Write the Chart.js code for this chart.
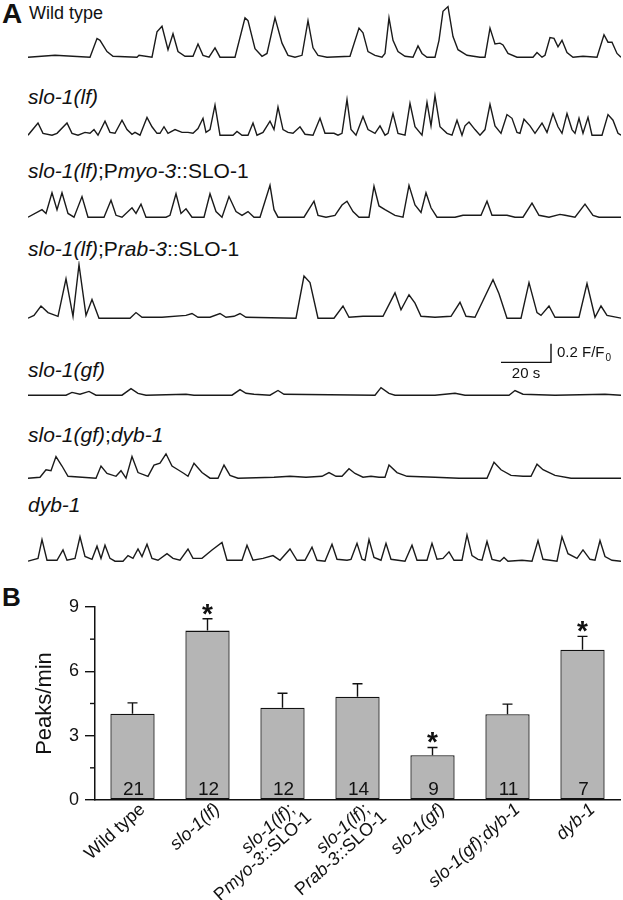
<!DOCTYPE html>
<html>
<head>
<meta charset="utf-8">
<script src="https://cdn.jsdelivr.net/npm/chart.js@4.4.1/dist/chart.umd.min.js"></script>
<style>
body{margin:0;background:#fff;width:623px;height:900px;position:relative;overflow:hidden;font-family:"Liberation Sans",Arial,sans-serif;color:#111;}
.box{position:absolute;}
.lab{position:absolute;left:28px;font-size:21px;line-height:21px;white-space:nowrap;}
.pl{position:absolute;left:2px;font-weight:bold;}
</style>
</head>
<body>

<div class="pl" style="top:0;font-size:28px;line-height:28px">A</div>
<div class="lab" style="left:29px;top:4px;font-size:18px;line-height:18px">Wild type</div>
<div class="lab" style="top:86px"><i>slo-1(lf)</i></div>
<div class="lab" style="top:160px"><i>slo-1(lf)</i>;P<i>myo-3</i>::SLO-1</div>
<div class="lab" style="top:238px"><i>slo-1(lf)</i>;P<i>rab-3</i>::SLO-1</div>
<div class="lab" style="top:359px"><i>slo-1(gf)</i></div>
<div class="lab" style="top:424px"><i>slo-1(gf)</i>;<i>dyb-1</i></div>
<div class="lab" style="top:494px"><i>dyb-1</i></div>
<div class="pl" style="top:584px;font-size:26px;line-height:26px">B</div>

<div class="box" style="left:28px;top:0px;width:593px;height:60px"><canvas id="t1"></canvas></div>
<div class="box" style="left:28px;top:78px;width:593px;height:60px"><canvas id="t2"></canvas></div>
<div class="box" style="left:28px;top:160px;width:593px;height:60px"><canvas id="t3"></canvas></div>
<div class="box" style="left:28px;top:261px;width:593px;height:60px"><canvas id="t4"></canvas></div>
<div class="box" style="left:28px;top:338px;width:593px;height:60px"><canvas id="t5"></canvas></div>
<div class="box" style="left:28px;top:421px;width:593px;height:60px"><canvas id="t6"></canvas></div>
<div class="box" style="left:28px;top:504px;width:593px;height:60px"><canvas id="t7"></canvas></div>
<div class="box" style="left:0;top:580px;width:623px;height:320px"><canvas id="bars"></canvas></div>

<script>
// Ca2+ traces, [time (s), dF/F0]
const wildType = [[0,0],[10.8,.02],[24.8,0],[27.6,.2],[28.8,.18],[31.6,.06],[34,.01],[43.6,0],[44.4,.02],[49.6,0],[51.6,.27],[53.6,.33],[56,.08],[58,.25],[60,.06],[62.8,.01],[66,.01],[68,.14],[70,.02],[72.4,0],[74.8,.1],[76.8,0],[82.8,0],[86.8,.42],[88,.39],[90.8,.09],[93.6,.01],[95.6,.04],[98.8,.42],[101.6,.15],[104,.02],[106.8,0],[109.6,.02],[112,.39],[114,.1],[116,.02],[119.6,0],[128.8,.01],[132.4,.31],[134,.26],[136,.06],[138.8,.02],[141.6,0],[142.8,.04],[144.4,.42],[146,.18],[148,.06],[150.8,.01],[154,0],[156,.12],[157.6,.04],[159.6,0],[162.8,0],[164.4,.18],[166,.49],[168,.54],[170,.22],[172,.08],[175.6,.02],[180.8,0],[182.8,0],[184.8,.31],[186.8,.14],[188.8,.15],[190,.13],[192,.04],[195.6,0],[202,0],[203.6,.05],[205.6,0],[206.8,.02],[208.8,.21],[210.4,.2],[212,.11],[213.6,.18],[215.6,.05],[218,0],[222,.01],[227.6,0],[230.4,.24],[232,.16],[233.6,.16],[235.6,.04],[237.2,0]];
const slo1lf = [[0,0],[4,.13],[6,.02],[9.6,0],[11.6,.02],[15.6,.13],[17.6,.02],[20,0],[22.8,.03],[24.8,.02],[26.4,.06],[28,0],[30.8,.15],[32.8,.03],[34.8,.02],[37.6,.16],[39.6,.06],[41.6,.01],[42.8,.03],[44.8,0],[47.6,.19],[49.6,.09],[51.6,.02],[52.8,.02],[54.4,.09],[56,.02],[58.8,.06],[61.6,.03],[64,.03],[66,.02],[68,.07],[70,.18],[71.2,.03],[72.8,.06],[74.8,.32],[76.8,0],[82,0],[83.6,.04],[85.6,0],[88,0],[90,.13],[91.6,0],[94,.03],[96.8,.15],[98.4,.06],[100,.3],[102,.06],[104,.03],[106,.02],[108.8,.09],[110.8,.01],[114,0],[116.8,.18],[118.8,.02],[120.8,.02],[122.4,.02],[124,0],[125.6,.02],[127.6,.38],[129.2,.06],[131.2,0],[134,.2],[136,.06],[138.8,.02],[140.8,.1],[142.8,0],[144,.02],[146,.23],[148,.02],[150.8,0],[152.8,.34],[154.8,.09],[157.6,0],[159.6,.35],[161.2,.1],[162.8,.42],[164.8,.09],[167.6,.02],[169.6,0],[171.6,.16],[173.6,0],[174.8,.1],[176.4,.14],[178.8,.06],[180.8,0],[182.8,.06],[184.8,.33],[186.8,.1],[189.2,.02],[191.6,.22],[193.6,.18],[195.6,.03],[196.8,.02],[198.4,.17],[200.8,.1],[202.8,.02],[205.6,.13],[207.6,.03],[210,.23],[212,.09],[213.6,.02],[215.6,.23],[217.6,.06],[218.8,.02],[220.4,.18],[222,.02],[224,.19],[225.6,0],[229.6,0],[232,.22],[234,.16],[236,.02],[237.2,0]];
const pmyo3Rescue = [[0,0],[5.6,.08],[7.2,.04],[9.6,.26],[11.6,.08],[13.6,.26],[16,.04],[18.4,0],[21.6,.22],[24,0],[30.4,0],[33.2,.18],[35.2,.02],[37.6,0],[41.6,.1],[43.2,.04],[45.2,.14],[47.2,0],[55.2,0],[56.8,.02],[59.2,.25],[61.2,.04],[63.2,.09],[65.6,0],[70.4,0],[72.8,.25],[75.2,.06],[77.6,0],[80.4,.22],[83.2,.06],[85.6,.02],[88,.06],[90.4,0],[92.8,0],[96.8,.34],[98.4,.08],[100,0],[110.4,0],[114.4,.17],[116,.02],[119.2,0],[122.8,.02],[125.6,.13],[127.6,.17],[130,.06],[132.4,0],[136.4,0],[138.4,.33],[140.4,.12],[142.8,.08],[146.8,.02],[150,0],[152.4,.34],[154.8,.13],[157.2,.05],[159.2,.26],[161.2,.1],[163.6,0],[170.8,0],[174,.02],[177.2,.02],[181.2,.02],[183.6,.17],[185.6,.02],[191.6,.02],[194.8,0],[198,0],[201.6,.15],[204.4,.02],[208.4,0],[212.8,.03],[214.8,.02],[218.8,0],[222.8,.14],[226,.02],[228.4,0],[237.2,0]];
const prab3Rescue = [[0,0],[2.4,.03],[5.2,.13],[8,.06],[12,.02],[15.2,.42],[18,.02],[20.4,.57],[23.2,.03],[25.6,.2],[28.4,0],[40.8,0],[43.2,.06],[45.6,.01],[53.6,.01],[63.2,.03],[65.6,.05],[68,.01],[72.8,.01],[76.8,.05],[79.2,.01],[82.4,.02],[84.8,.05],[87.2,.01],[107.2,0],[110.4,.45],[112.8,.38],[116,0],[122.4,0],[126,.13],[128.4,.01],[134,.02],[138,.02],[142,.02],[146.8,.27],[149.2,.09],[152.4,.25],[154.8,.16],[157.2,.02],[162.8,.01],[169.2,.02],[172.8,.17],[175.2,.02],[178.8,.01],[186,.41],[188.4,.26],[191.6,0],[197.2,0],[200.4,.38],[203.6,.06],[205.2,.03],[208.4,.13],[210.8,.01],[220.4,.01],[223.6,.37],[226.8,.01],[229.2,.13],[231.6,.03],[237.2,0]];
const slo1gf = [[0,0],[15.2,0],[17.6,.03],[20.8,.01],[24.4,.04],[27.2,0],[37.6,0],[41.2,.07],[44,.02],[47.2,0],[63.2,.01],[66.4,0],[81.6,0],[84.8,.06],[87.2,.02],[90.4,.01],[96.8,0],[100,.05],[102.4,.01],[138.8,0],[141.2,.08],[144.4,.02],[146.8,0],[162.8,0],[170.8,.02],[174.8,0],[192.4,0],[194.8,.05],[198,.01],[210.8,0],[230.8,.01],[237.2,0]];
const slo1gfDyb1 = [[0,0],[4.8,.01],[7.2,.09],[9.2,.08],[11.2,.23],[13.6,.13],[16,.02],[27.2,0],[29.2,.13],[31.6,.05],[35.2,.02],[37.2,.08],[39.2,0],[41.6,.23],[44,.06],[48,.02],[50.4,.14],[52.8,.16],[55.2,.26],[57.6,.13],[60,.09],[62.4,.05],[64,.02],[66.4,.16],[69.6,.06],[72.8,0],[76,0],[78.4,.14],[80.8,.03],[84,0],[98.4,.01],[104.8,.02],[111.2,.01],[117.6,.02],[120.4,.06],[123.2,.02],[125.6,.02],[128.4,.1],[130.8,.05],[134,.01],[137.2,.02],[140.4,.01],[142.8,.01],[144.4,.14],[147.6,.06],[151.6,.02],[162.8,.01],[172.4,0],[183.6,0],[186.4,.17],[189.2,.09],[193.2,.03],[198,.02],[201.2,.02],[203.6,.15],[206,.09],[210.8,.03],[217.2,0],[237.2,0]];
const dyb1 = [[0,0],[4,.03],[5.6,.23],[7.6,.01],[11.6,.01],[14,.12],[15.6,.01],[18.8,.03],[20.8,.26],[22.8,.05],[25.6,.02],[27.6,.16],[29.2,.03],[30.8,.17],[32.8,.03],[34.8,0],[38,0],[40,.06],[42,.03],[44,.13],[45.6,.05],[47.6,.18],[49.6,.03],[52,.01],[55.6,.08],[58,.03],[60.8,.01],[64,.13],[66,.03],[69.6,.03],[73.6,.12],[77.6,.2],[79.6,.01],[85.6,.01],[87.6,.17],[90,.01],[94,.03],[98,.06],[100.8,.01],[104.8,.13],[107.6,.01],[110.8,.01],[113.6,.15],[115.6,.01],[118.8,0],[121.6,.18],[123.6,.02],[127.6,.01],[129.2,.02],[131.6,.19],[133.6,.02],[134.8,.01],[136.4,.23],[138.4,.04],[141.2,.01],[143.2,.19],[145.2,.02],[150.8,0],[153.6,.17],[155.6,.01],[159.6,.01],[161.6,.19],[163.6,.02],[166,.03],[168.4,.1],[170.4,.01],[173.6,.01],[175.6,.28],[177.6,.06],[180,.02],[181.6,.01],[183.6,.21],[185.6,.02],[188.8,0],[190.4,.04],[192,0],[197.6,.01],[201.6,0],[204,.22],[206,.02],[211.6,0],[213.6,.26],[216,.08],[219.6,.03],[222,.12],[224.8,.02],[226.8,.01],[228.8,.22],[230.8,.05],[233.6,.01],[237.2,0]];
const traceSeconds = 237.2;

// scale bar: 20 s, 0.2 F/F0
const barStart = 189.2, barSec = 20, barBase = 0.35, barDF = 0.2;

// panel B
const genotypes = ['Wild type', 'slo-1(lf)', 'slo-1(lf); Pmyo-3::SLO-1', 'slo-1(lf); Prab-3::SLO-1', 'slo-1(gf)', 'slo-1(gf);dyb-1', 'dyb-1'];
const peaksPerMin = [4.02, 7.9, 4.3, 4.82, 2.09, 4.0, 7.01];
const peaksSem = [0.51, 0.55, 0.68, 0.6, 0.36, 0.47, 0.62];
const animalsN = [21, 12, 12, 14, 9, 11, 7];
const significant = [false, true, false, false, true, false, true];
const yTicks = [0, 3, 6, 9];
const yMinorTicks = [1.5, 4.5, 7.5];

// label lines, [text, italic]
const genotypeLines = [
  [[['Wild type', false]]],
  [[['slo-1(lf)', true]]],
  [[['slo-1(lf)', true], [';', false]], [['P', false], ['myo-3', true], ['::SLO-1', false]]],
  [[['slo-1(lf)', true], [';', false]], [['P', false], ['rab-3', true], ['::SLO-1', false]]],
  [[['slo-1(gf)', true]]],
  [[['slo-1(gf)', true], [';', false], ['dyb-1', true]]],
  [[['dyb-1', true]]]
];

const FONT = '"Liberation Sans", Arial, sans-serif';
const INK = '#111';

const scaleBar = {
  id: 'scaleBar',
  afterDraw(c) {
    const ctx = c.ctx, x = c.scales.x, y = c.scales.y;
    const x0 = x.getPixelForValue(barStart), x1 = x.getPixelForValue(barStart + barSec);
    const y0 = y.getPixelForValue(barBase), y1 = y.getPixelForValue(barBase + barDF);
    ctx.save();
    ctx.strokeStyle = INK;
    ctx.lineWidth = 1.4;
    ctx.beginPath();
    ctx.moveTo(x0, y0);
    ctx.lineTo(x1, y0);
    ctx.lineTo(x1, y1);
    ctx.stroke();
    ctx.fillStyle = INK;
    ctx.font = '15px ' + FONT;
    ctx.textAlign = 'center';
    ctx.textBaseline = 'top';
    ctx.fillText('20 s', (x0 + x1) / 2, y0 + 4);
    ctx.textAlign = 'left';
    ctx.textBaseline = 'middle';
    const ym = (y0 + y1) / 2;
    ctx.fillText('0.2 F/F', x1 + 6, ym);
    const w = ctx.measureText('0.2 F/F').width;
    ctx.font = '10px ' + FONT;
    ctx.fillText('0', x1 + 7 + w, ym + 5);
    ctx.restore();
  }
};

function traceChart(id, pts, extra) {
  new Chart(document.getElementById(id), {
    type: 'line',
    data: {
      datasets: [{
        data: pts.map(p => ({x: p[0], y: p[1]})),
        borderColor: '#1a1a1a',
        borderWidth: 1.4,
        pointRadius: 0,
        tension: 0,
        fill: false
      }]
    },
    options: {
      responsive: true,
      maintainAspectRatio: false,
      animation: false,
      events: [],
      layout: {padding: 0},
      plugins: {legend: {display: false}, tooltip: {enabled: false}},
      scales: {
        x: {type: 'linear', min: 0, max: traceSeconds, display: false},
        y: {min: -0.03, max: 0.61, display: false}
      }
    },
    plugins: extra ? [extra] : []
  });
}

traceChart('t1', wildType);
traceChart('t2', slo1lf);
traceChart('t3', pmyo3Rescue);
traceChart('t4', prab3Rescue);
traceChart('t5', slo1gf, scaleBar);
traceChart('t6', slo1gfDyb1);
traceChart('t7', dyb1);

// error bars, n, asterisks, minor ticks, rotated labels
const labelAngle = 42 * Math.PI / 180;
const barMarks = {
  id: 'barMarks',
  afterDraw(c) {
    const ctx = c.ctx, x = c.scales.x, y = c.scales.y;
    const meta = c.getDatasetMeta(0);
    ctx.save();
    ctx.strokeStyle = INK;
    ctx.fillStyle = INK;
    ctx.lineWidth = 1.4;
    yMinorTicks.forEach(v => {
      const py = y.getPixelForValue(v);
      ctx.beginPath();
      ctx.moveTo(c.chartArea.left - 5, py);
      ctx.lineTo(c.chartArea.left, py);
      ctx.stroke();
    });
    meta.data.forEach((bar, i) => {
      const cx = bar.x;
      const top = y.getPixelForValue(peaksPerMin[i]);
      const et = y.getPixelForValue(peaksPerMin[i] + peaksSem[i]);
      ctx.beginPath();
      ctx.moveTo(cx, top);
      ctx.lineTo(cx, et);
      ctx.moveTo(cx - 5, et);
      ctx.lineTo(cx + 5, et);
      ctx.stroke();
      ctx.font = '19px ' + FONT;
      ctx.textAlign = 'center';
      ctx.textBaseline = 'bottom';
      ctx.fillText(String(animalsN[i]), cx + 1, y.getPixelForValue(0) - 1);
      if (significant[i]) {
        ctx.font = 'bold 28px ' + FONT;
        ctx.textBaseline = 'alphabetic';
        ctx.fillText('*', cx, et + 4);
      }
    });
    ctx.textAlign = 'left';
    ctx.textBaseline = 'middle';
    genotypeLines.forEach((lines, i) => {
      const px = x.getPixelForValue(i);
      ctx.save();
      ctx.translate(px + 10, x.top + 7);
      ctx.rotate(-labelAngle);
      lines.forEach((segs, j) => {
        let w = 0;
        segs.forEach(s => {
          ctx.font = (s[1] ? 'italic ' : '') + '18px ' + FONT;
          w += ctx.measureText(s[0]).width;
        });
        let tx = -w + j * 7;
        segs.forEach(s => {
          ctx.font = (s[1] ? 'italic ' : '') + '18px ' + FONT;
          ctx.fillText(s[0], tx, j * 17);
          tx += ctx.measureText(s[0]).width;
        });
      });
      ctx.restore();
    });
    ctx.restore();
  }
};

new Chart(document.getElementById('bars'), {
  type: 'bar',
  data: {
    labels: genotypes,
    datasets: [{
      data: peaksPerMin,
      backgroundColor: '#b5b5b5',
      borderColor: INK,
      borderWidth: 1.3,
      borderSkipped: false,
      barPercentage: 0.59,
      categoryPercentage: 1
    }]
  },
  options: {
    responsive: true,
    maintainAspectRatio: false,
    animation: false,
    events: [],
    layout: {padding: {top: 27, right: 3, left: 0, bottom: 0}},
    plugins: {legend: {display: false}, tooltip: {enabled: false}},
    scales: {
      x: {
        ticks: {display: false},
        grid: {display: false},
        border: {color: INK, width: 1.5},
        afterFit(s) { s.height = 100; }
      },
      y: {
        min: 0,
        max: 9,
        afterBuildTicks(s) { s.ticks = yTicks.map(v => ({value: v})); },
        ticks: {color: INK, font: {size: 18, family: FONT}, padding: 6},
        grid: {drawOnChartArea: false, tickLength: 10, color: INK, lineWidth: 1.4},
        border: {color: INK, width: 1.5},
        title: {display: true, text: 'Peaks/min', color: INK, font: {size: 22, family: FONT}, padding: {top: 32, bottom: 0}},
        afterFit(s) { s.width = 95; }
      }
    }
  },
  plugins: [barMarks]
});
</script>
</body>
</html>
